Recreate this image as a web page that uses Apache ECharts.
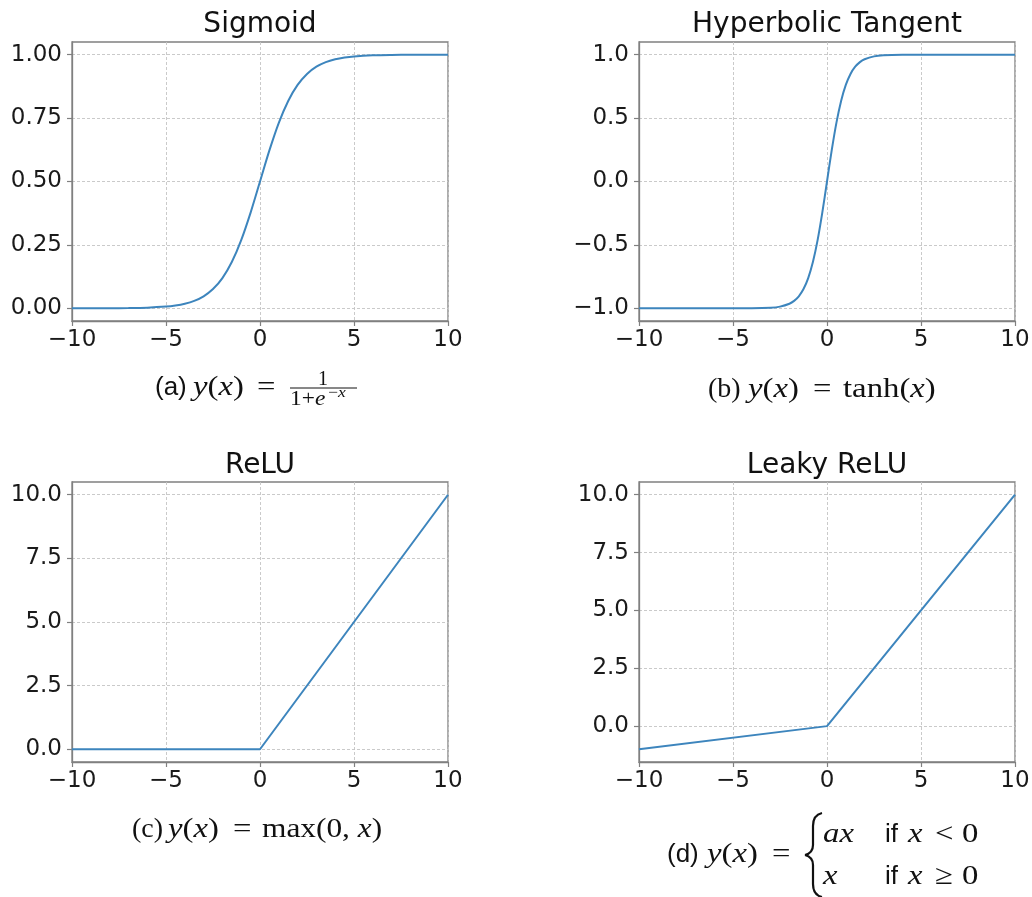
<!DOCTYPE html>
<html>
<head>
<meta charset="utf-8">
<script src="https://cdn.jsdelivr.net/npm/echarts@6/dist/echarts.min.js"></script>
<style>
  html, body { margin: 0; padding: 0; background: #fff; }
  #chart { width: 1032px; height: 897px; }
</style>
</head>
<body>
<div id="chart"></div>
<script>
// values
const sigX = [-10, -9, -8, -7, -6, -5, -4.5, -4, -3.5, -3, -2.5, -2, -1.5, -1, -0.5, 0, 0.5, 1, 1.5, 2, 2.5, 3, 3.5, 4, 4.5, 5, 6, 7, 8, 9, 10]
const sigY = [0.0, 0.0001, 0.0003, 0.0009, 0.0025, 0.0067, 0.011, 0.018, 0.0293, 0.0474, 0.0759, 0.1192, 0.1824, 0.2689, 0.3775, 0.5, 0.6225, 0.7311, 0.8176, 0.8808, 0.9241, 0.9526, 0.9707, 0.982, 0.989, 0.9933, 0.9975, 0.9991, 0.9997, 0.9999, 1.0]

const tanhX = [-10, -8, -6, -4, -3, -2.5, -2, -1.75, -1.5, -1.25, -1, -0.75, -0.5, -0.25, 0, 0.25, 0.5, 0.75, 1, 1.25, 1.5, 1.75, 2, 2.5, 3, 4, 6, 8, 10]
const tanhY = [-1.0, -1.0, -1.0, -0.9993, -0.9951, -0.9866, -0.964, -0.9414, -0.9051, -0.8483, -0.7616, -0.6351, -0.4621, -0.2449, 0, 0.2449, 0.4621, 0.6351, 0.7616, 0.8483, 0.9051, 0.9414, 0.964, 0.9866, 0.9951, 0.9993, 1.0, 1.0, 1.0]

const reluX = [-10, 0, 10]
const reluY = [0, 0, 10]

const leakyX = [-10, 0, 10]
const leakyY = [-1, 0, 10]

const xTicks = [-10, -5, 0, 5, 10]
const sigTicks = [0, 0.25, 0.5, 0.75, 1]
const tanhTicks = [-1, -0.5, 0, 0.5, 1]
const reluTicks = [0, 2.5, 5, 7.5, 10]

const titles = ['Sigmoid', 'Hyperbolic Tangent', 'ReLU', 'Leaky ReLU']

const chart = echarts.init(document.getElementById('chart'))

const frame = '#808080'
const lineColor = '#3d85bd'
const tickFont = 'DejaVu Sans'
const serif = 'Liberation Serif'
const sans = 'Liberation Sans'

const grids = [
  { left: 72, top: 42, width: 376, height: 279 },
  { left: 639, top: 42, width: 376, height: 279 },
  { left: 72, top: 482, width: 376, height: 280 },
  { left: 639, top: 482, width: 376, height: 280 },
].map((g) => ({
  ...g,
  show: true,
  borderColor: frame,
  borderWidth: 1.3,
  containLabel: false,
  outerBoundsMode: 'none',
}))

const minus = (s) => s.replace('-', '\u2212')

function xAx(i) {
  return {
    gridIndex: i,
    type: 'value',
    min: -10,
    max: 10,
    axisLine: { show: true, onZero: false, lineStyle: { color: frame, width: 1.3 } },
    axisTick: { show: true, length: 5, customValues: xTicks, lineStyle: { color: frame, width: 1.2 } },
    axisLabel: {
      customValues: xTicks,
      fontSize: 23,
      fontFamily: tickFont,
      color: '#1a1a1a',
      margin: 8,
      formatter: (v) => minus(String(v)),
    },
    splitLine: { show: true, lineStyle: { type: [3, 2], color: '#c4c4c4', width: 0.9 } },
  }
}

function yAx(i, min, max, ticks, digits) {
  return {
    gridIndex: i,
    type: 'value',
    min,
    max,
    axisLine: { show: true, onZero: false, lineStyle: { color: frame, width: 1.3 } },
    axisTick: { show: true, length: 5, customValues: ticks, lineStyle: { color: frame, width: 1.2 } },
    axisLabel: {
      customValues: ticks,
      fontSize: 23,
      fontFamily: tickFont,
      color: '#1a1a1a',
      margin: 10,
      formatter: (v) => minus(v.toFixed(digits)),
    },
    splitLine: { show: true, lineStyle: { type: [3, 2], color: '#c4c4c4', width: 0.9 } },
  }
}

function pairs(xs, ys) {
  return xs.map((x, k) => [x, ys[k]])
}

function curve(i, xs, ys, smooth) {
  return {
    type: 'line',
    xAxisIndex: i,
    yAxisIndex: i,
    data: pairs(xs, ys),
    showSymbol: false,
    smooth,
    silent: true,
    lineStyle: { color: lineColor, width: 2 },
  }
}

// caption pieces: i = math italic, r = upright serif, s = sans
// sx widens the math a bit, TeX fonts run wider than Liberation Serif
function txt(x, y, parts, size, sx = 1) {
  return {
    type: 'text',
    x,
    y,
    scaleX: sx,
    silent: true,
    style: {
      text: parts.map((p) => '{' + p[0] + '|' + p[1] + '}').join(''),
      fontSize: size,
      fontFamily: serif,
      fill: '#111',
      align: 'left',
      verticalAlign: 'middle',
      rich: {
        i: { fontFamily: serif, fontStyle: 'italic', fontSize: size, fill: '#111' },
        r: { fontFamily: serif, fontSize: size, fill: '#111' },
        s: { fontFamily: sans, fontSize: size - 2, fill: '#111' },
      },
    },
  }
}

function title(x, y, text) {
  return {
    type: 'text',
    x,
    y,
    silent: true,
    style: { text, fontSize: 28, fontFamily: tickFont, fill: '#111', align: 'center', verticalAlign: 'middle' },
  }
}

function seg(x1, y1, cx, cy, x2, y2) {
  return {
    type: 'bezierCurve',
    silent: true,
    shape: { x1, y1, cpx1: cx, cpy1: cy, x2, y2 },
    style: { stroke: '#111', fill: null, lineWidth: 2.2 },
  }
}

const yx = [['i', 'y'], ['r', '('], ['i', 'x'], ['r', ')']]
const cs = 28
const wx = 1.17

const graphic = [
  title(260, 25, titles[0]),
  title(827, 25, titles[1]),
  title(260, 466, titles[2]),
  title(827, 466, titles[3]),

  // (a)
  txt(155, 388, [['s', '(a)']], cs),
  txt(193, 388, yx, cs, wx),
  txt(257, 388, [['r', '=']], cs, wx),
  { type: 'text', x: 323, y: 380, silent: true, style: { text: '1', fontSize: 20, fontFamily: serif, fill: '#111', align: 'center', verticalAlign: 'middle' } },
  { type: 'line', silent: true, shape: { x1: 290, y1: 388, x2: 357, y2: 388 }, style: { stroke: '#111', lineWidth: 1 } },
  txt(290, 400, [['r', '1+'], ['i', 'e']], 20, wx),
  txt(328, 393, [['r', '\u2212'], ['i', 'x']], 15, wx),

  // (b)
  txt(708, 390, [['r', '(b)']], cs),
  txt(748, 390, yx, cs, wx),
  txt(813, 390, [['r', '=']], cs, wx),
  txt(843, 390, [['r', 'tanh('], ['i', 'x'], ['r', ')']], cs, wx),

  // (c)
  txt(132, 830, [['r', '(c)']], cs),
  txt(168, 830, yx, cs, wx),
  txt(233, 830, [['r', '=']], cs, wx),
  txt(262, 830, [['r', 'max(0, '], ['i', 'x'], ['r', ')']], cs, 1.12),

  // (d) with the brace
  txt(667, 855, [['s', '(d)']], cs),
  txt(707, 855, yx, cs, wx),
  txt(772, 855, [['r', '=']], cs, wx),
  seg(822, 813, 813, 815, 813, 826),
  seg(813, 826, 813, 836, 813, 845),
  seg(813, 845, 813, 853, 805, 855),
  seg(805, 855, 813, 857, 813, 865),
  seg(813, 865, 813, 875, 813, 884),
  seg(813, 884, 813, 895, 822, 897),
  txt(823, 835, [['i', 'ax']], cs, wx),
  txt(885, 835, [['s', 'if']], cs),
  txt(908, 835, [['i', 'x']], cs, wx),
  txt(935, 835, [['r', '<']], cs, wx),
  txt(962, 835, [['r', '0']], cs, wx),
  txt(823, 877, [['i', 'x']], cs, wx),
  txt(885, 877, [['s', 'if']], cs),
  txt(908, 877, [['i', 'x']], cs, wx),
  txt(935, 877, [['r', '\u2265']], cs, wx),
  txt(962, 877, [['r', '0']], cs, wx),
]

chart.setOption({
  animation: false,
  backgroundColor: '#fff',
  grid: grids,
  xAxis: [xAx(0), xAx(1), xAx(2), xAx(3)],
  yAxis: [
    yAx(0, -0.05, 1.05, sigTicks, 2),
    yAx(1, -1.1, 1.1, tanhTicks, 1),
    yAx(2, -0.5, 10.5, reluTicks, 1),
    yAx(3, -1.55, 10.55, reluTicks, 1),
  ],
  series: [
    curve(0, sigX, sigY, 0.3),
    curve(1, tanhX, tanhY, 0.3),
    curve(2, reluX, reluY, false),
    curve(3, leakyX, leakyY, false),
  ],
  graphic,
})
</script>
</body>
</html>
